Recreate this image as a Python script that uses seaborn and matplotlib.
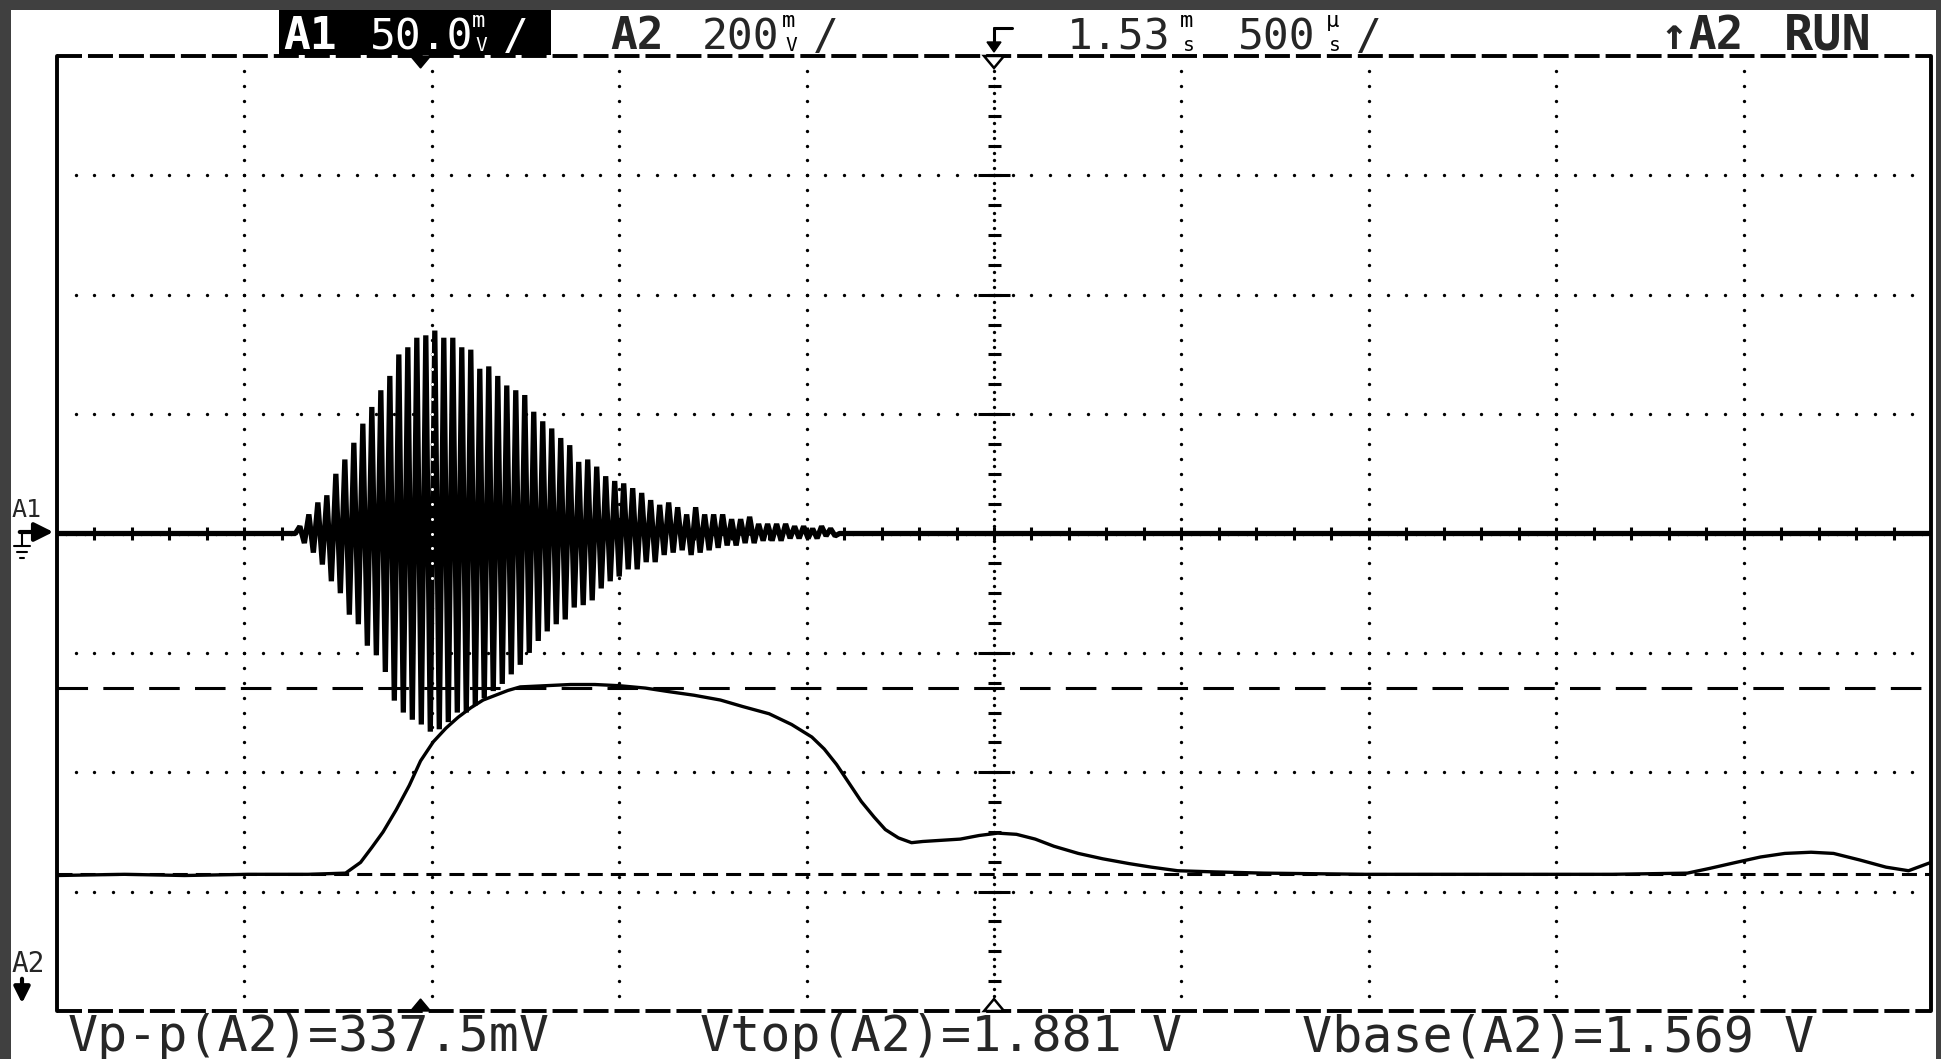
import numpy as np
import pandas as pd
import matplotlib
matplotlib.use("Agg")
import matplotlib.pyplot as plt
import seaborn as sns
from matplotlib.patches import Rectangle, Polygon

# scope settings shown on the screen
a1_mv_per_div = 50.0
a2_mv_per_div = 200
delay_ms = 1.53
us_per_div = 500
vpp_a2_mv = 337.5
vtop_a2 = 1.881
vbase_a2 = 1.569
a2_center_v = 2.14   # A2 voltage sitting on the centre line

# A1: ultrasonic burst, positive / negative peak of each carrier cycle (mV)
burst_start_ms = -0.322
carrier_period_ms = 0.024
a1_pos_peaks = [3, 8, 13, 16, 25, 31, 38, 46, 53, 60,
                66, 75, 78, 82, 83, 85, 82, 82, 78, 77,
                69, 70, 66, 62, 60, 58, 51, 47, 44, 40,
                37, 30, 31, 28, 24, 22, 21, 19, 17, 14,
                12, 13, 11, 8, 11, 8, 8, 8, 6, 6,
                7, 4, 4, 4, 4, 3, 3, 2, 3, 2]
a1_neg_peaks = [4, 8, 13, 20, 25, 34, 38, 47, 51, 58,
                70, 75, 78, 80, 83, 82, 79, 75, 75, 72,
                69, 66, 63, 59, 55, 50, 45, 41, 38, 36,
                31, 30, 28, 23, 20, 18, 15, 15, 12, 12,
                9, 8, 7, 9, 8, 7, 6, 5, 5, 4,
                4, 3, 3, 3, 2, 2, 2, 2, 1, 1]

# A2: detector output
a2_time_ms = [-0.97, -0.79, -0.63, -0.46, -0.30, -0.20, -0.16, -0.13, -0.10, -0.065,
              -0.03, 0.0, 0.034, 0.068, 0.10, 0.134, 0.167, 0.20, 0.233, 0.266,
              0.333, 0.40, 0.465, 0.53, 0.60, 0.663, 0.73, 0.80, 0.86, 0.93,
              0.99, 1.044, 1.077, 1.11, 1.143, 1.176, 1.21, 1.24, 1.275, 1.31,
              1.34, 1.39, 1.44, 1.49, 1.54, 1.59, 1.64, 1.69, 1.755, 1.82,
              1.89, 1.95, 2.02, 2.12, 2.25, 2.52, 2.85, 3.18, 3.38, 3.44,
              3.51, 3.575, 3.64, 3.71, 3.77, 3.84, 3.91, 3.97, 4.03]
a2_volts = [1.567, 1.569, 1.567, 1.569, 1.569, 1.571, 1.589, 1.614, 1.640, 1.677,
            1.718, 1.759, 1.791, 1.814, 1.832, 1.848, 1.861, 1.869, 1.877, 1.883,
            1.885, 1.887, 1.887, 1.885, 1.881, 1.875, 1.869, 1.861, 1.850, 1.838,
            1.820, 1.799, 1.779, 1.753, 1.722, 1.691, 1.665, 1.644, 1.630, 1.622,
            1.624, 1.626, 1.628, 1.634, 1.638, 1.636, 1.628, 1.616, 1.604, 1.595,
            1.587, 1.581, 1.575, 1.573, 1.571, 1.569, 1.569, 1.569, 1.571, 1.579,
            1.589, 1.598, 1.604, 1.606, 1.604, 1.593, 1.581, 1.575, 1.589]

W, H = 1941, 1059
ms_per_div = us_per_div / 1000
t_left = delay_ms - 5 * ms_per_div
t_right = delay_ms + 5 * ms_per_div
px_per_ms = 1874 / (t_right - t_left)
px_per_div = 955 / 8

sns.set_theme(style="white")
plt.rcParams["font.family"] = ["DejaVu Sans Mono", "DejaVu Sans"]
plt.rcParams["lines.scale_dashes"] = False

fig = plt.figure(figsize=(W / 100, H / 100), dpi=100, facecolor="#404040")
fig.add_artist(Rectangle((11 / W, 0), 1925 / W, (H - 10) / H, transform=fig.transFigure,
                         facecolor="white", edgecolor="none", zorder=-5))
ax = fig.add_axes([57 / W, 1 - 1011 / H, 1874 / W, 955 / H])
ax.set_facecolor("none")
ax.set_xlim(t_left, t_right)
ax.set_ylim(-4, 4)
ax.axis("off")

# graticule
dot = dict(marker="o", ms=2.4, color="black", ls="none", mew=0, clip_on=False)
xs_fine = t_left + ms_per_div * np.arange(1, 100) / 10
for gy in [-3, -2, -1, 1, 2, 3]:
    ax.plot(xs_fine, np.full_like(xs_fine, gy), **dot)
ys_fine = -4 + np.arange(1, 64) / 8
for j in [1, 2, 3, 4, 6, 7, 8, 9]:
    ax.plot(np.full_like(ys_fine, t_left + j * ms_per_div), ys_fine, **dot)

# centre axes with ticks
ys_c = -4 + np.arange(1, 128) / 16
ax.plot(np.full_like(ys_c, delay_ms), ys_c, **dot)
ax.hlines(np.arange(-3.75, 4, 0.25), delay_ms - 6.5 / px_per_ms, delay_ms + 6.5 / px_per_ms,
          color="black", lw=2.2)
ax.hlines(np.arange(-3, 4, 1), delay_ms - 16 / px_per_ms, delay_ms + 16 / px_per_ms,
          color="black", lw=2.2)
xs_c = t_left + ms_per_div * np.arange(1, 200) / 20
ax.plot(xs_c, np.zeros_like(xs_c), **dot)
ax.vlines(t_left + ms_per_div * np.arange(1, 50) / 5, -6.5 / px_per_div, 6.5 / px_per_div,
          color="black", lw=2.2)

# frame: solid sides, dashed top and bottom
ax.plot([t_left, t_left], [-4, 4], color="black", lw=2.8, clip_on=False)
ax.plot([t_right, t_right], [-4, 4], color="black", lw=2.8, clip_on=False)
for yy in [4, -4]:
    ax.plot([t_left, t_right], [yy, yy], color="black", lw=2.8, dashes=(18, 4.3), clip_on=False)

# Vtop / Vbase cursors
ax.axhline((vtop_a2 - a2_center_v) / (a2_mv_per_div / 1000), color="black", lw=2.2, dashes=(22, 11))
ax.axhline((vbase_a2 - a2_center_v) / (a2_mv_per_div / 1000), color="black", lw=2.2, dashes=(10.8, 5.8))

# traces
t_top = burst_start_ms + carrier_period_ms * np.arange(len(a1_pos_peaks))
t_bot = t_top + carrier_period_ms / 2
t_burst = np.column_stack([t_top, t_bot]).ravel()
v_burst = np.column_stack([a1_pos_peaks, -np.array(a1_neg_peaks)]).ravel()
a1 = pd.DataFrame({
    "t": np.concatenate([[t_left, burst_start_ms - carrier_period_ms / 2], t_burst,
                         [t_burst[-1] + carrier_period_ms / 2, t_right]]),
    "div": np.concatenate([[0, 0], v_burst / a1_mv_per_div, [0, 0]]),
})
a2 = pd.DataFrame({"t": a2_time_ms,
                   "div": (np.array(a2_volts) - a2_center_v) / (a2_mv_per_div / 1000)})
sns.lineplot(data=a1, x="t", y="div", sort=False, estimator=None, color="black",
             linewidth=3.8, solid_joinstyle="bevel", ax=ax)
sns.lineplot(data=a2, x="t", y="div", sort=False, estimator=None, color="black",
             linewidth=2.4, ax=ax)
ax.set_xlim(t_left, t_right)
ax.set_ylim(-4, 4)

# the screen XORs the graticule over the trace: white dots through the burst
ys_x = ys_fine[(ys_fine > -0.5) & (ys_fine < 1.6)]
ax.plot(np.full_like(ys_x, t_left + 2 * ms_per_div), ys_x,
        **{**dot, "color": "white", "ms": 2.2})

# trigger position markers and centre markers
tw, th = 10 / px_per_ms, 12 / px_per_div
ax.add_patch(Polygon([(-tw, 4), (tw, 4), (0, 4 - th)], closed=True, color="black", clip_on=False))
ax.add_patch(Polygon([(-tw, -4), (tw, -4), (0, -4 + th)], closed=True, color="black", clip_on=False))
ax.add_patch(Polygon([(delay_ms - tw, 4), (delay_ms + tw, 4), (delay_ms, 4 - th)], closed=True,
                     facecolor="white", edgecolor="black", lw=1.8, clip_on=False, zorder=4))
ax.add_patch(Polygon([(delay_ms - tw, -4), (delay_ms + tw, -4), (delay_ms, -4 + th)], closed=True,
                     facecolor="white", edgecolor="black", lw=1.8, clip_on=False, zorder=4))


def put(x, y, s, size, **kw):
    fig.text(x / W, 1 - y / H, s, fontsize=size, va="baseline", **kw)


def stacked(x, top, bottom, color="black"):
    put(x, 27, top, 16, color=color)
    put(x + 3, 51, bottom, 14, color=color)


# header
fig.add_artist(Rectangle((279 / W, 1 - 55 / H), 272 / W, 45 / H, transform=fig.transFigure,
                         facecolor="black", edgecolor="none", zorder=2))
put(283, 49, "A1", 32, color="white", weight="bold")
put(370, 49, f"{a1_mv_per_div:.1f}", 31, color="white")
stacked(472, "m", "V", color="white")
put(503, 49, "/", 31, color="white")
put(610, 49, "A2", 32, weight="bold")
put(702, 49, f"{a2_mv_per_div}", 31)
stacked(782, "m", "V")
put(813, 49, "/", 31)
fig.add_artist(plt.Line2D([994 / W, 1012 / W], [1 - 28 / H, 1 - 28 / H], color="black", lw=2.2))
fig.add_artist(plt.Line2D([994 / W, 994 / W], [1 - 28 / H, 1 - 44 / H], color="black", lw=2.2))
fig.add_artist(Polygon([(987 / W, 1 - 42 / H), (1001 / W, 1 - 42 / H), (994 / W, 1 - 52 / H)],
                       closed=True, color="black", transform=fig.transFigure))
put(1067, 49, f"{delay_ms:.2f}", 31)
stacked(1180, "m", "s")
put(1238, 49, f"{us_per_div}", 31)
stacked(1326, "µ", "s")
put(1356, 49, "/", 31)
put(1660, 49, "↑", 32, weight="bold")
put(1688, 49, "A2", 33, weight="bold")
put(1784, 49, "RUN", 35, weight="bold")

# channel markers on the left
put(12, 517, "A1", 18)
ax.annotate("", xy=(56 / W, 1 - 532 / H), xytext=(17 / W, 1 - 532 / H),
            xycoords="figure fraction", textcoords="figure fraction",
            arrowprops=dict(arrowstyle="-|>", lw=3, color="black", mutation_scale=28))
for x0, x1, yy in [(14, 30, 546), (17, 27, 552), (20, 24, 558)]:
    fig.add_artist(plt.Line2D([x0 / W, x1 / W], [1 - yy / H, 1 - yy / H], color="black", lw=1.5))
fig.add_artist(plt.Line2D([22 / W, 22 / W], [1 - 534 / H, 1 - 546 / H], color="black", lw=1.5))
put(12, 972, "A2", 20)
ax.annotate("", xy=(22 / W, 1 - 1006 / H), xytext=(22 / W, 1 - 976 / H),
            xycoords="figure fraction", textcoords="figure fraction",
            arrowprops=dict(arrowstyle="-|>", lw=3, color="black", mutation_scale=24))

# measurements
put(68, 1051, f"Vp-p(A2)={vpp_a2_mv:.1f}mV", 36)
put(700, 1051, f"Vtop(A2)={vtop_a2:.3f} V", 36)
put(1302, 1051, f"Vbase(A2)={vbase_a2:.3f} V", 36)

fig.savefig("out.png", dpi=100, facecolor=fig.get_facecolor())
